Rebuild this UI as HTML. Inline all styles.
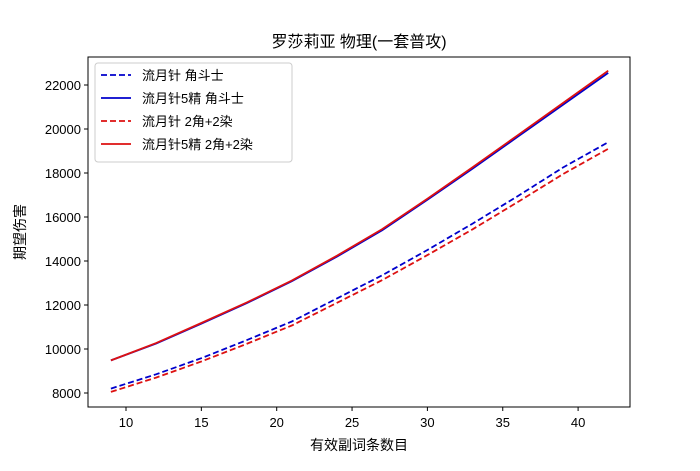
<!DOCTYPE html>
<html><head><meta charset="utf-8"><style>
html,body{margin:0;padding:0;background:#fff;}
svg text{font-family:"Liberation Sans","Noto Sans CJK SC",sans-serif;}
</style></head><body>
<svg id="chart" width="700" height="466" xmlns="http://www.w3.org/2000/svg">
<rect width="700" height="466" fill="#fff"/>
<text x="359" y="47" font-size="16" text-anchor="middle">罗莎莉亚 物理(一套普攻)</text>
<g id="plot"></g>
<rect x="88" y="57" width="542" height="350" fill="none" stroke="#000" stroke-width="1"/>
<text x="359" y="450" font-size="14" text-anchor="middle">有效副词条数目</text>
<text transform="translate(25,232) rotate(-90)" font-size="14" text-anchor="middle">期望伤害</text>
<g>
<rect x="95" y="63" width="197" height="99" fill="#fff" fill-opacity="0.8" stroke="#ccc" rx="3"/>
</g>
</svg>
<script>
const xs = [9,12,15,18,21,24,27,30,33,36,39,42];
const blueDashed = [8200,8850,9580,10400,11250,12300,13350,14500,15700,16950,18250,19400];
const blueSolid = [9480,10250,11150,12080,13080,14200,15400,16780,18200,19650,21100,22550];
const redDashed = [8050,8700,9430,10230,11070,12100,13130,14270,15440,16680,17950,19100];
const redSolid = [9480,10270,11180,12110,13110,14240,15450,16830,18260,19720,21180,22650];
const xTicks = [10,15,20,25,30,35,40];
const yTicks = [8000,10000,12000,14000,16000,18000,20000,22000];
const seriesNames = ["流月针 角斗士","流月针5精 角斗士","流月针 2角+2染","流月针5精 2角+2染"];

const NS="http://www.w3.org/2000/svg";
const X=v=>126+(v-10)*15.07;
const Y=v=>393-(v-8000)*22/1000;
const svg=document.getElementById('chart');
const plot=document.getElementById('plot');
function mk(t,a,p){const e=document.createElementNS(NS,t);for(const k in a)e.setAttribute(k,a[k]);(p||svg).appendChild(e);return e;}
xTicks.forEach(v=>{
  const g=mk('g',{});
  
  
  mk('line',{x1:X(v),x2:X(v),y1:407,y2:411,stroke:'#000'},g);
  const t=mk('text',{x:X(v),y:427,'font-size':13,'text-anchor':'middle'},g);t.textContent=v;
});
yTicks.forEach(v=>{
  const g=mk('g',{});
  
  
  mk('line',{x1:84,x2:88,y1:Y(v),y2:Y(v),stroke:'#000'},g);
  const t=mk('text',{x:81,y:Y(v)+5,'font-size':13,'text-anchor':'end'},g);t.textContent=v;
});
const series=[[blueDashed,'#0000cc','6,3'],[blueSolid,'#0000cc',''],[redDashed,'#dd1111','6,3'],[redSolid,'#dd1111','']];
series.forEach((s,i)=>{
  const d=s[0].map((v,j)=>(j?'L':'M')+X(xs[j]).toFixed(1)+','+Y(v).toFixed(1)).join(' ');
  const p=mk('path',{d:d,fill:'none',stroke:s[1],'stroke-width':1.8,'stroke-dasharray':s[2]},plot);
  
  
  const g=mk('g',{});
  
  
  const ly=75+i*23;
  mk('line',{x1:101,x2:131,y1:ly,y2:ly,stroke:s[1],'stroke-width':1.8,'stroke-dasharray':s[2]},g);
  const t=mk('text',{x:142,y:ly+5,'font-size':13},g);t.textContent=seriesNames[i];
});
</script>
</body></html>
